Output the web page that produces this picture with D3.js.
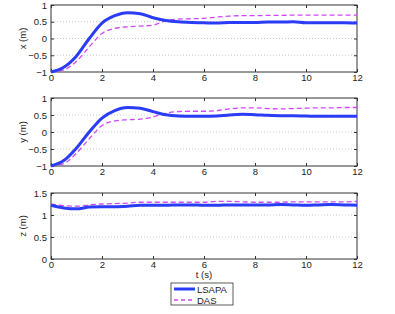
<!DOCTYPE html>
<html>
<head>
<meta charset="utf-8">
<script src="https://cdn.jsdelivr.net/npm/d3@7"></script>
<style>
  body { margin: 0; background: #fff; }
  text { font-family: "Liberation Sans", Arial, sans-serif; fill: #222; }
</style>
</head>
<body>
<div id="chart"></div>
<script>
// time samples (s)
const time = [0,0.5,1,1.5,2,2.5,3,3.5,4,4.5,5,5.5,6,6.5,7,7.5,8,8.5,9,9.5,10,10.5,11,11.5,12];

// x (m)
const xLSAPA = [-1,-0.86,-0.52,0.0,0.46,0.68,0.77,0.74,0.62,0.54,0.50,0.48,0.47,0.46,0.48,0.48,0.48,0.49,0.49,0.50,0.47,0.47,0.47,0.47,0.46];
const xDAS   = [-1,-0.94,-0.68,-0.25,0.15,0.30,0.35,0.37,0.40,0.53,0.58,0.59,0.60,0.64,0.67,0.68,0.68,0.69,0.69,0.70,0.70,0.70,0.70,0.70,0.70];
// y (m)
const yLSAPA = [-1,-0.84,-0.47,0.0,0.41,0.63,0.72,0.70,0.60,0.51,0.47,0.46,0.46,0.47,0.50,0.52,0.51,0.49,0.48,0.48,0.47,0.46,0.46,0.46,0.46];
const yDAS   = [-1,-0.93,-0.62,-0.2,0.19,0.33,0.36,0.38,0.44,0.55,0.60,0.61,0.61,0.63,0.68,0.71,0.71,0.69,0.68,0.69,0.70,0.71,0.71,0.72,0.72];
// z (m)
const zLSAPA = [1.22,1.16,1.14,1.18,1.19,1.19,1.20,1.22,1.22,1.22,1.23,1.23,1.22,1.22,1.23,1.23,1.23,1.23,1.24,1.23,1.22,1.23,1.24,1.23,1.22];
const zDAS   = [1.25,1.21,1.20,1.23,1.25,1.26,1.27,1.29,1.29,1.29,1.29,1.29,1.29,1.31,1.31,1.30,1.29,1.29,1.29,1.30,1.30,1.30,1.30,1.30,1.31];

const xTicks = [0,2,4,6,8,10,12];
const seriesNames = ["LSAPA", "DAS"];

const panels = [
  {label: "x (m)", a: xLSAPA, b: xDAS, domain: [-1, 1], ticks: [-1,-0.5,0,0.5,1], top: 5, bottom: 72},
  {label: "y (m)", a: yLSAPA, b: yDAS, domain: [-1, 1], ticks: [-1,-0.5,0,0.5,1], top: 98, bottom: 166},
  {label: "z (m)", a: zLSAPA, b: zDAS, domain: [0, 1.5], ticks: [0,0.5,1,1.5], top: 193, bottom: 259}
];

const width = 395, height = 314;
const left = 51, right = 357;
const blue = "#2a3cf5", magenta = "#d046f5";

const svg = d3.select("#chart").append("svg")
  .attr("width", width).attr("height", height);

const x = d3.scaleLinear().domain([0, 12]).range([left, right]);
const fmt = v => String(v).replace("-", "\u2212");

panels.forEach((p, i) => {
  const y = d3.scaleLinear().domain(p.domain).range([p.bottom, p.top]);
  const g = svg.append("g");

  // dotted grid lines
  g.selectAll(".grid").data(p.ticks.slice(1, -1)).join("line")
    .attr("x1", left).attr("x2", right)
    .attr("y1", d => y(d)).attr("y2", d => y(d))
    .attr("stroke", "#bbb").attr("stroke-width", 0.8).attr("stroke-dasharray", "1,2");

  // axes (inward ticks, MATLAB box)
  g.append("g").attr("transform", `translate(0,${p.bottom})`)
    .call(d3.axisBottom(x).tickValues(xTicks).tickSize(-3).tickPadding(2).tickFormat(d => d))
    .call(a => a.select(".domain").remove());
  g.append("g").attr("transform", `translate(0,${p.top})`)
    .call(d3.axisTop(x).tickValues(xTicks).tickSize(-3).tickFormat(""))
    .call(a => a.select(".domain").remove());
  g.append("g").attr("transform", `translate(${left},0)`)
    .call(d3.axisLeft(y).tickValues(p.ticks).tickSize(-3).tickPadding(4).tickFormat(fmt))
    .call(a => a.select(".domain").remove());
  g.append("g").attr("transform", `translate(${right},0)`)
    .call(d3.axisRight(y).tickValues(p.ticks).tickSize(-3).tickFormat(""))
    .call(a => a.select(".domain").remove());
  g.selectAll(".tick line").attr("stroke", "#333");
  g.selectAll(".tick text").style("font-size", "9.5px").attr("fill", "#222");

  g.append("rect")
    .attr("x", left).attr("y", p.top)
    .attr("width", right - left).attr("height", p.bottom - p.top)
    .attr("fill", "none").attr("stroke", "#333").attr("stroke-width", 1);

  g.append("text")
    .attr("transform", `translate(26,${(p.top + p.bottom) / 2}) rotate(-90)`)
    .attr("text-anchor", "middle")
    .style("font-size", "9.5px")
    .text(p.label);

  const line = vals => d3.line()
    .x((d, k) => x(time[k]))
    .y(d => y(d))
    .curve(d3.curveMonotoneX)(vals);

  g.append("path").attr("d", line(p.b))
    .attr("fill", "none").attr("stroke", magenta)
    .attr("stroke-width", 1.3).attr("stroke-dasharray", "5,3");
  g.append("path").attr("d", line(p.a))
    .attr("fill", "none").attr("stroke", blue)
    .attr("stroke-width", 3);
});

svg.append("text")
  .attr("x", x(6)).attr("y", 278)
  .attr("text-anchor", "middle")
  .style("font-size", "9.5px")
  .text("t (s)");

// legend
const lg = svg.append("g").attr("transform", "translate(171,283)");
lg.append("rect").attr("width", 62).attr("height", 22)
  .attr("fill", "#fff").attr("stroke", "#333").attr("stroke-width", 0.8);
const styles = [
  {color: blue, w: 3, dash: null},
  {color: magenta, w: 1.3, dash: "4,3"}
];
seriesNames.forEach((name, i) => {
  const yy = 6 + i * 11;
  lg.append("line").attr("x1", 3).attr("x2", 24).attr("y1", yy).attr("y2", yy)
    .attr("stroke", styles[i].color).attr("stroke-width", styles[i].w)
    .attr("stroke-dasharray", styles[i].dash);
  lg.append("text").attr("x", 26).attr("y", yy + 3.5)
    .style("font-size", "9.5px").text(name);
});
</script>
</body>
</html>
